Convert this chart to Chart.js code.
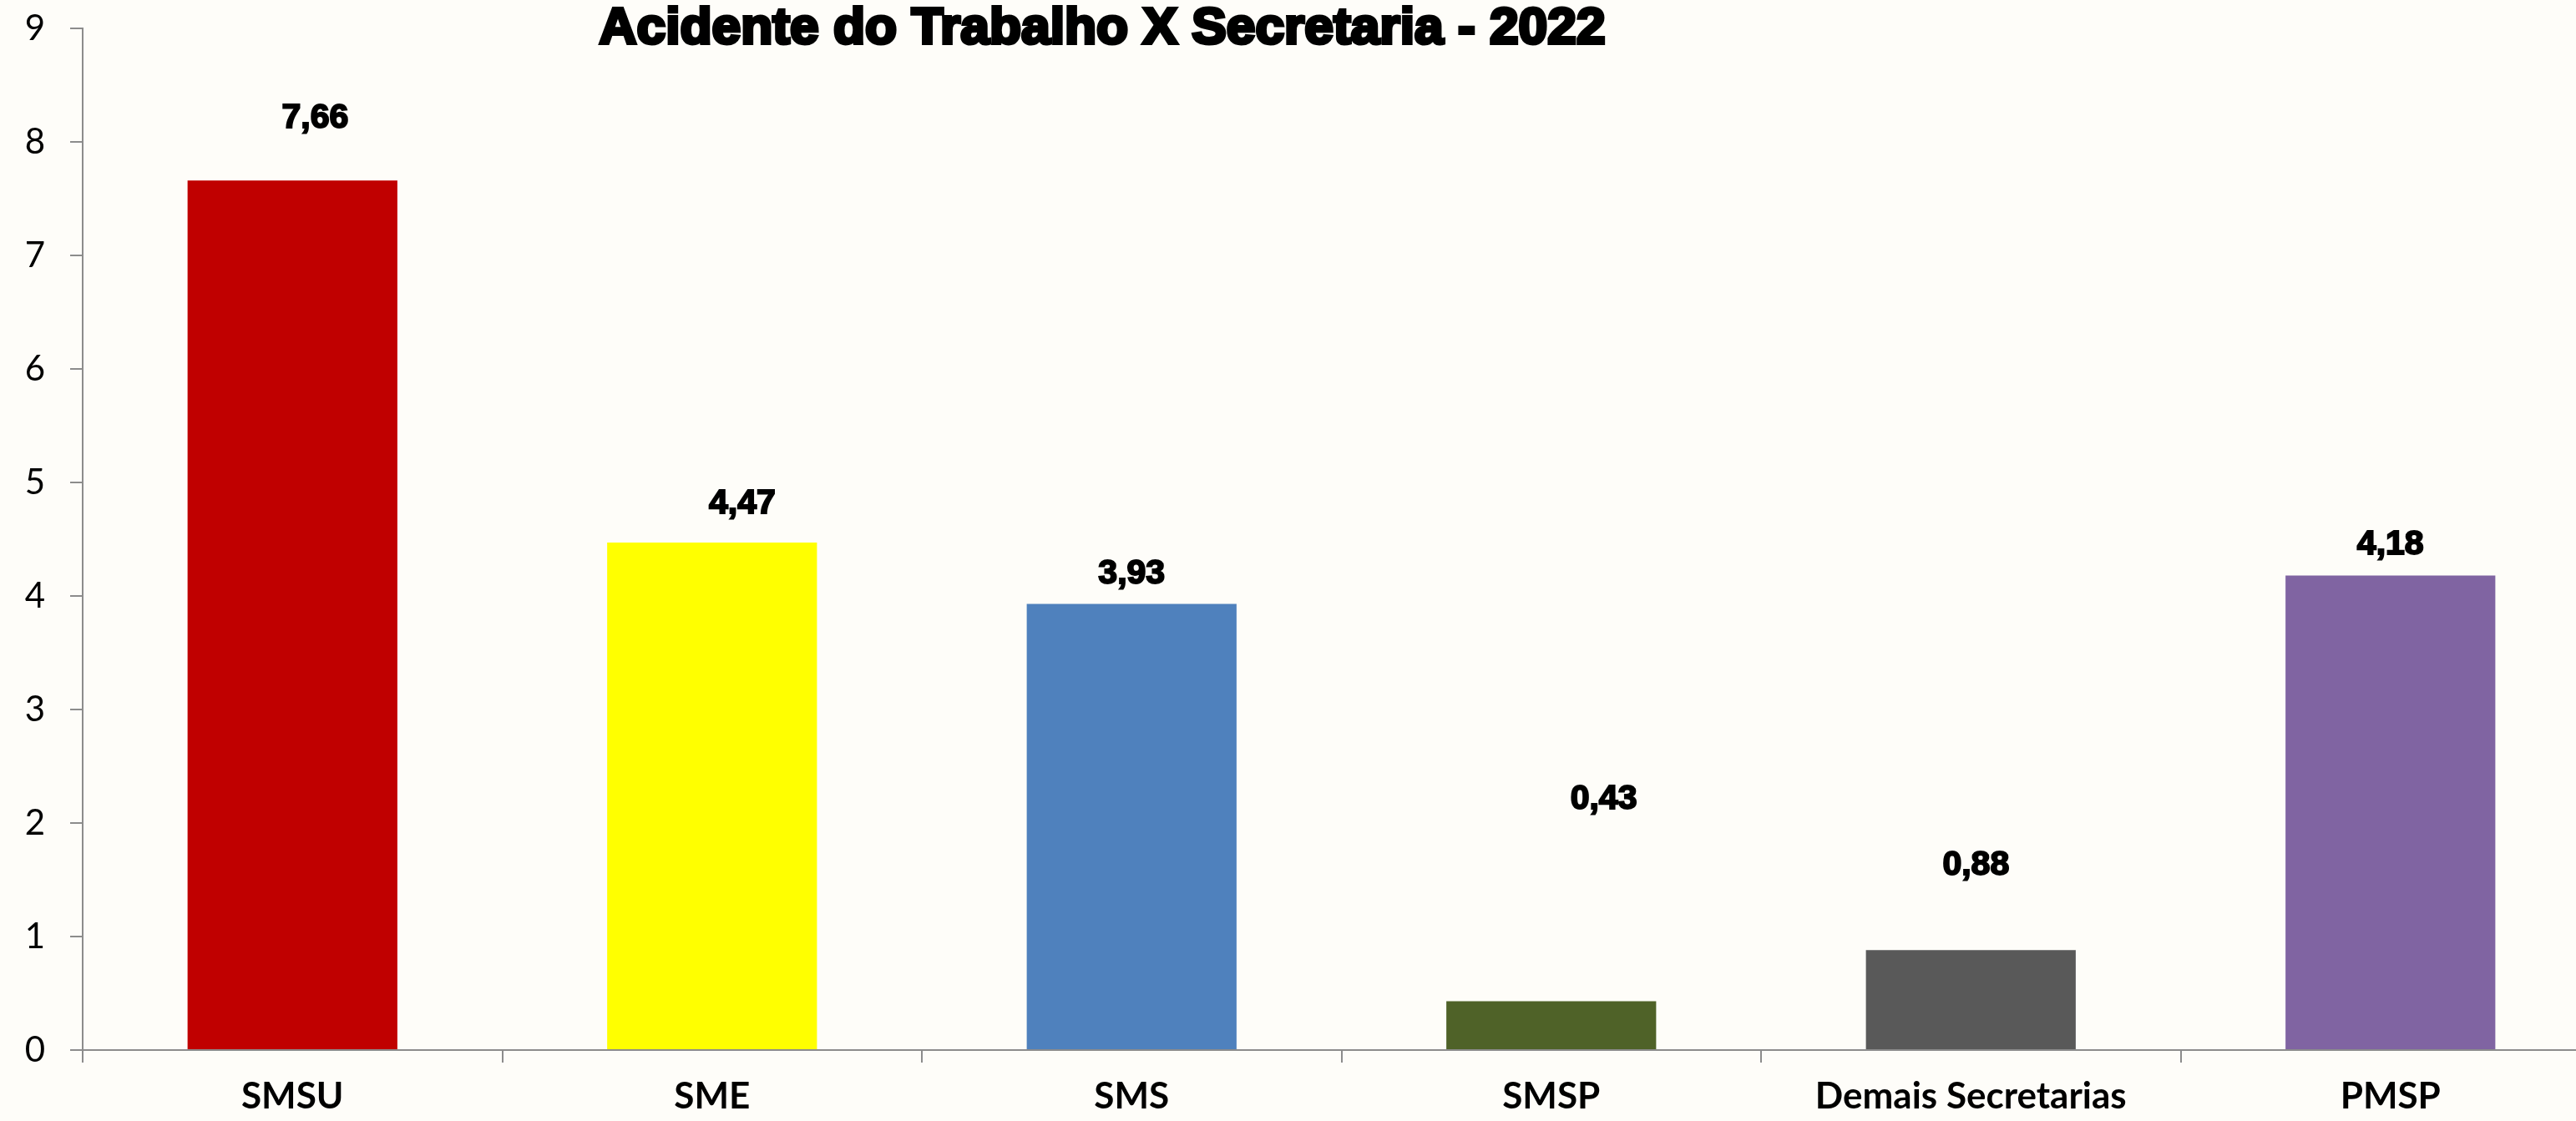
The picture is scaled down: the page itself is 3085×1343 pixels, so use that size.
<!DOCTYPE html>
<html>
<head>
<meta charset="utf-8">
<script src="https://cdn.jsdelivr.net/npm/chart.js@4"></script>
<style>
  html, body { margin: 0; padding: 0; background: #fefdf9; overflow: hidden; }
  #box { width: 3114px; height: 1343px; }
</style>
</head>
<body>
<div id="box"><canvas id="barChart"></canvas></div>
<script>
// dados do gráfico
var secretarias = ["SMSU", "SME", "SMS", "SMSP", "Demais Secretarias", "PMSP"];
var indices = [7.66, 4.47, 3.93, 0.43, 0.88, 4.18];
var coresBarras = ["#C00000", "#FFFF00", "#4F81BD", "#4F6228", "#595959", "#8064A2"];
var ticksY = [0, 1, 2, 3, 4, 5, 6, 7, 8, 9];
var titulo = "Acidente do Trabalho X Secretaria - 2022";

// deslocamento manual dos rótulos (como no Excel): [fração da categoria, unidades do eixo]
var ajusteRotulos = [
  [0.054, 0.55],
  [0.072, 0.34],
  [0, 0.26],
  [0.125, 1.78],
  [0.012, 0.745],
  [0, 0.27],
];

var corEixo = "#8c8c8c";

var pluginRotulos = {
  id: "rotulos",
  afterDatasetsDraw(chart) {
    var ctx = chart.ctx;
    var meta = chart.getDatasetMeta(0);
    var escalaY = chart.scales.y;
    var escalaX = chart.scales.x;
    var larguraCat = escalaX.width / secretarias.length;

    ctx.save();
    ctx.font = "bold 41px 'Liberation Sans'";
    ctx.fillStyle = "#000";
    ctx.strokeStyle = "#000";
    ctx.textAlign = "center";
    ctx.textBaseline = "middle";
    ctx.lineWidth = 2;

    for (var i = 0; i < meta.data.length; i++) {
      var barra = meta.data[i];
      var x = barra.x + ajusteRotulos[i][0] * larguraCat;
      var y = escalaY.getPixelForValue(indices[i] + ajusteRotulos[i][1]);
      var texto = indices[i].toFixed(2).replace(".", ",");
      ctx.fillText(texto, x, y);
      ctx.strokeText(texto, x, y);
    }

    // título sobreposto à área do gráfico
    ctx.font = "bold 62px 'Liberation Sans'";
    var w = ctx.measureText(titulo).width;
    var sx = 1205 / w;
    var cx = chart.chartArea.left + 0.405 * chart.chartArea.width;
    ctx.translate(cx, 52);
    ctx.scale(sx, 1);
    ctx.textBaseline = "alphabetic";
    ctx.lineWidth = 4;
    ctx.fillText(titulo, 0, 0);
    ctx.strokeText(titulo, 0, 0);
    ctx.restore();
  },
};

var chartBar = new Chart(document.getElementById("barChart"), {
  type: "bar",

  data: {
    labels: secretarias,

    datasets: [
      {
        data: indices,
        backgroundColor: coresBarras,
        borderWidth: 0,
        barPercentage: 0.5,
        categoryPercentage: 1,
      },
    ],
  },

  options: {
    responsive: true,
    maintainAspectRatio: false,
    animation: false,

    layout: {
      padding: { top: 34, right: 0, left: 0, bottom: 0 },
    },

    plugins: {
      legend: { display: false },
      tooltip: { enabled: false },
    },

    scales: {
      x: {
        afterFit: function (scale) {
          scale.height = 85;
          scale.paddingLeft = 0;
          scale.paddingRight = 0;
        },

        grid: {
          drawOnChartArea: false,
          drawTicks: true,
          tickLength: 15,
          color: corEixo,
          lineWidth: 2,
          offset: true,
        },

        border: {
          color: corEixo,
          width: 2,
        },

        ticks: {
          color: "#000",
          autoSkip: false,
          maxRotation: 0,
          padding: 14,
          font: {
            family: "Lato",
            size: 44,
            weight: "bold",
          },
        },
      },

      y: {
        min: 0,
        max: 9,

        afterFit: function (scale) {
          scale.width = 99;
          scale.paddingTop = 0;
          scale.paddingBottom = 0;
        },

        afterBuildTicks: function (scale) {
          scale.ticks = ticksY.map(function (v) {
            return { value: v };
          });
        },

        grid: {
          drawOnChartArea: false,
          drawTicks: true,
          tickLength: 15,
          color: corEixo,
          lineWidth: 2,
        },

        border: {
          color: corEixo,
          width: 2,
        },

        ticks: {
          color: "#000",
          padding: 30,
          font: {
            family: "Lato",
            size: 42,
          },
        },
      },
    },
  },

  plugins: [pluginRotulos],
});
</script>
</body>
</html>
